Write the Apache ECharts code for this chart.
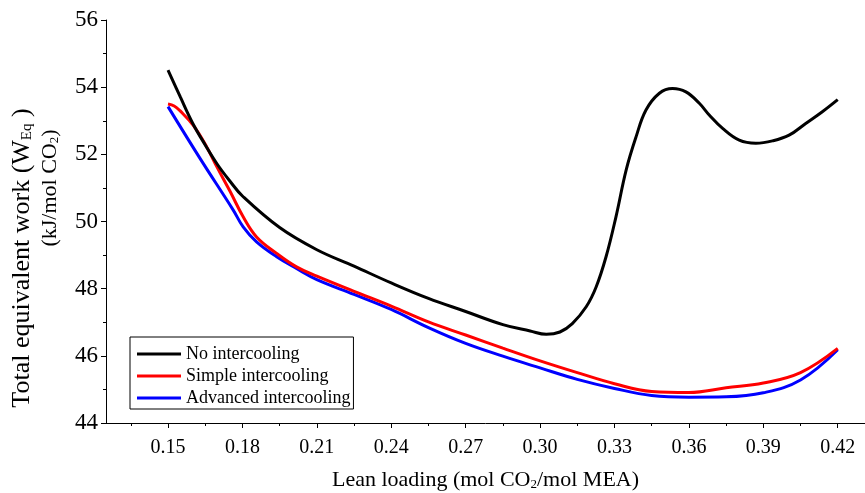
<!DOCTYPE html>
<html>
<head>
<meta charset="utf-8">
<script src="https://cdn.jsdelivr.net/npm/echarts@6/dist/echarts.min.js"></script>
<style>
  html, body { margin: 0; padding: 0; background: #fff; }
  #chart { width: 865px; height: 493px; }
</style>
</head>
<body>
<div id="chart"></div>
<script>
// Lean loading (mol CO2/mol MEA) and total equivalent work (kJ/mol CO2)
const noIcLoading = [0.15, 0.155, 0.16, 0.165, 0.17, 0.175, 0.18, 0.195, 0.21, 0.225, 0.24, 0.255, 0.27, 0.285, 0.296, 0.3025, 0.308, 0.313, 0.3186, 0.3226, 0.3266, 0.3306, 0.3347, 0.3387, 0.3427, 0.3481, 0.3534, 0.3588, 0.3642, 0.3682, 0.3736, 0.3803, 0.387, 0.3937, 0.4004, 0.4071, 0.4138, 0.42];
const noIcWork = [54.51, 53.70, 52.92, 52.28, 51.69, 51.20, 50.76, 49.82, 49.16, 48.67, 48.17, 47.71, 47.32, 46.93, 46.74, 46.64, 46.71, 46.96, 47.46, 48.05, 48.95, 50.14, 51.53, 52.52, 53.32, 53.82, 53.96, 53.86, 53.52, 53.17, 52.77, 52.42, 52.33, 52.40, 52.57, 52.92, 53.27, 53.63];

const simpleLoading = [0.15, 0.1525, 0.1548, 0.1602, 0.1656, 0.1696, 0.175, 0.1803, 0.1857, 0.1938, 0.2018, 0.21, 0.225, 0.24, 0.255, 0.27, 0.285, 0.30, 0.315, 0.33, 0.345, 0.36, 0.375, 0.39, 0.405, 0.42];
const simpleWork = [53.50, 53.44, 53.30, 52.86, 52.22, 51.64, 50.90, 50.14, 49.54, 49.05, 48.65, 48.37, 47.92, 47.48, 47.01, 46.62, 46.23, 45.85, 45.50, 45.17, 44.94, 44.91, 45.05, 45.19, 45.50, 46.22];

const advancedLoading = [0.15, 0.1629, 0.1763, 0.1803, 0.1857, 0.1938, 0.2018, 0.21, 0.225, 0.24, 0.255, 0.27, 0.285, 0.30, 0.315, 0.33, 0.345, 0.36, 0.375, 0.39, 0.405, 0.42];
const advancedWork = [53.42, 51.88, 50.34, 49.84, 49.39, 48.95, 48.60, 48.27, 47.83, 47.38, 46.84, 46.37, 45.99, 45.64, 45.30, 45.03, 44.82, 44.77, 44.78, 44.90, 45.28, 46.18];

const seriesNames = ['No intercooling', 'Simple intercooling', 'Advanced intercooling'];
const seriesColors = ['#000000', '#ff0000', '#0000ff'];

const xTickLabels = [0.15, 0.18, 0.21, 0.24, 0.27, 0.30, 0.33, 0.36, 0.39, 0.42];
const xMinorTicks = [0.135, 0.165, 0.195, 0.225, 0.255, 0.285, 0.315, 0.345, 0.375, 0.405];

const FONT = 'Liberation Serif';

function pairs(xs, ys) {
  return xs.map((x, i) => [x, ys[i]]);
}

const subRich = {
  sub: { fontFamily: FONT, fontSize: 13, color: '#000', lineHeight: 13, padding: [11, 0, 0, 0], verticalAlign: 'bottom' }
};

const chart = echarts.init(document.getElementById('chart'), null, { renderer: 'canvas' });

chart.setOption({
  animation: false,
  backgroundColor: '#ffffff',
  grid: { left: 106, right: 0, top: 20, bottom: 70, outerBoundsMode: 'none', containLabel: false },
  xAxis: [
    {
      type: 'value',
      min: 0.125,
      max: 0.431,
      splitLine: { show: false },
      axisLine: { show: true, lineStyle: { color: '#000', width: 1 } },
      axisTick: { show: true, inside: false, length: 5, lineStyle: { color: '#000' }, customValues: xTickLabels },
      axisLabel: {
        show: true, margin: 15, color: '#000', fontFamily: FONT, fontSize: 20,
        customValues: xTickLabels,
        formatter: v => v.toFixed(2)
      },
      name: 'Lean loading (mol CO{sub|2}/mol MEA)',
      nameLocation: 'middle',
      nameGap: 46,
      nameTextStyle: { color: '#000', fontFamily: FONT, fontSize: 22, lineHeight: 22, rich: subRich }
    },
    {
      type: 'value',
      min: 0.125,
      max: 0.431,
      position: 'bottom',
      splitLine: { show: false },
      axisLine: { show: false },
      axisLabel: { show: false },
      axisTick: { show: true, inside: false, length: 3, lineStyle: { color: '#000' }, customValues: xMinorTicks }
    }
  ],
  yAxis: {
    type: 'value',
    min: 44,
    max: 56,
    interval: 2,
    splitLine: { show: false },
    axisLine: { show: true, lineStyle: { color: '#000', width: 1 } },
    axisTick: { show: true, inside: false, length: 5, lineStyle: { color: '#000' } },
    minorTick: { show: true, splitNumber: 2, length: 3, lineStyle: { color: '#000' } },
    minorSplitLine: { show: false },
    axisLabel: { margin: 8, color: '#000', fontFamily: FONT, fontSize: 23 }
  },
  legend: {
    data: seriesNames,
    orient: 'vertical',
    left: 130,
    top: 337,
    padding: [8, 3, 2, 7],
    itemGap: 4,
    itemWidth: 44,
    itemHeight: 3,
    itemTextGap: 4,
    icon: 'rect',
    borderColor: '#000',
    borderWidth: 1,
    backgroundColor: '#fff',
    textStyle: { color: '#000', fontFamily: FONT, fontSize: 18 }
  },
  graphic: [
    {
      type: 'text',
      x: 22, y: 258,
      rotation: Math.PI / 2,
      style: {
        text: 'Total equivalent work (W{sub|Eq} )',
        fontFamily: FONT, fontSize: 26, fill: '#000', lineHeight: 26,
        align: 'center', verticalAlign: 'middle',
        rich: {
          sub: { fontFamily: FONT, fontSize: 15, color: '#000', lineHeight: 15, padding: [12, 0, 0, 0], verticalAlign: 'bottom' }
        }
      }
    },
    {
      type: 'text',
      x: 50, y: 188,
      rotation: Math.PI / 2,
      style: {
        text: '(kJ/mol CO{sub|2})',
        fontFamily: FONT, fontSize: 22, fill: '#000', lineHeight: 22,
        align: 'center', verticalAlign: 'middle',
        rich: subRich
      }
    }
  ],
  series: [
    { name: seriesNames[0], type: 'line', data: pairs(noIcLoading, noIcWork) },
    { name: seriesNames[1], type: 'line', data: pairs(simpleLoading, simpleWork) },
    { name: seriesNames[2], type: 'line', data: pairs(advancedLoading, advancedWork) }
  ].map((s, i) => Object.assign(s, {
    xAxisIndex: 0,
    smooth: 0.4,
    showSymbol: false,
    symbol: 'none',
    color: seriesColors[i],
    lineStyle: { color: seriesColors[i], width: 3 },
    z: 3 - i
  }))
});
</script>
</body>
</html>
